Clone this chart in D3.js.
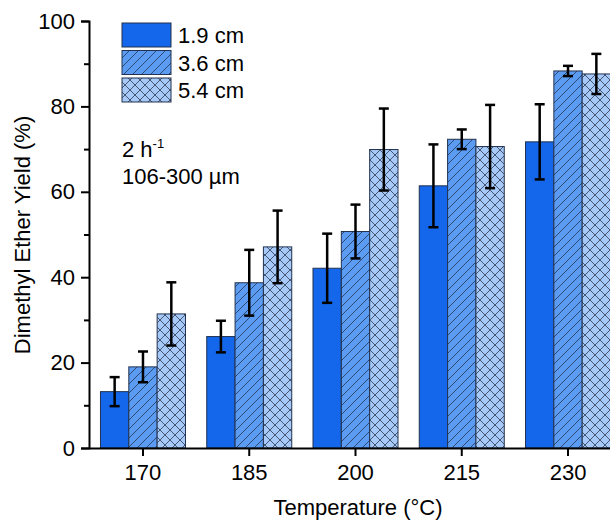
<!DOCTYPE html>
<html><head><meta charset="utf-8">
<script src="https://cdn.jsdelivr.net/npm/d3@7"></script>
<style>body{margin:0;background:#fff}svg{display:block}text{font-family:"Liberation Sans",Arial,sans-serif;fill:#000}</style>
</head><body>
<script>
const temperatures = ["170","185","200","215","230"];
const seriesNames = ["1.9 cm","3.6 cm","5.4 cm"];
const yield19 = [13.2, 26.1, 42.1, 61.4, 71.7];
const err19   = [3.4, 3.7, 8.1, 9.7, 8.8];
const yield36 = [19.0, 38.7, 50.7, 72.3, 88.3];
const err36   = [3.6, 7.7, 6.3, 2.3, 1.2];
const yield54 = [31.4, 47.1, 69.9, 70.6, 87.6];
const err54   = [7.4, 8.5, 9.6, 9.75, 4.7];
const yTicks = [0, 20, 40, 60, 80, 100];
const yMinor = [10, 30, 50, 70, 90];

const W = 610, H = 521;
const FS = 22;
const svg = d3.select("body").append("svg").attr("width", W).attr("height", H);
const defs = svg.append("defs");
const colors = ["#1466EA", "#5B9BF1", "#A7C9F8"];

// hatch patterns
const p1 = defs.append("pattern").attr("id","hatch").attr("patternUnits","userSpaceOnUse")
  .attr("width",9).attr("height",9);
p1.append("rect").attr("width",9).attr("height",9).attr("fill",colors[1]);
p1.append("path").attr("d","M-2,2 L2,-2 M0,9 L9,0 M7,11 L11,7").attr("stroke","#2a3f66").attr("stroke-width",0.9);
const p2 = defs.append("pattern").attr("id","cross").attr("patternUnits","userSpaceOnUse")
  .attr("width",10).attr("height",10);
p2.append("rect").attr("width",10).attr("height",10).attr("fill",colors[2]);
p2.append("path").attr("d","M-2,2 L2,-2 M0,10 L10,0 M8,12 L12,8 M-2,8 L2,12 M0,0 L10,10 M8,-2 L12,2").attr("stroke","#3a4a66").attr("stroke-width",0.9);
const fills = [colors[0], "url(#hatch)", "url(#cross)"];

const x0 = d3.scaleBand().domain(temperatures).range([89, 622]).paddingInner(0.2).paddingOuter(0.108);
const x1 = d3.scaleBand().domain(seriesNames).range([0, x0.bandwidth()]);
const y = d3.scaleLinear().domain([0, 100]).range([448, 21]);

const series = [
  {name: seriesNames[0], vals: yield19, errs: err19},
  {name: seriesNames[1], vals: yield36, errs: err36},
  {name: seriesNames[2], vals: yield54, errs: err54}
];

const g = svg.append("g");
series.forEach((s, si) => {
  temperatures.forEach((t, i) => {
    const bx = x0(t) + x1(s.name);
    g.append("rect").attr("x", bx).attr("y", y(s.vals[i]))
      .attr("width", x1.bandwidth()).attr("height", y(0) - y(s.vals[i]))
      .attr("fill", fills[si]).attr("stroke", "#22324f").attr("stroke-width", 1);
  });
});
series.forEach((s, si) => {
  temperatures.forEach((t, i) => {
    const cx = x0(t) + x1(s.name) + x1.bandwidth() / 2;
    const top = y(s.vals[i] + s.errs[i]), bot = y(s.vals[i] - s.errs[i]);
    const eg = g.append("g").attr("stroke", "#000").attr("stroke-width", 2.5);
    eg.append("line").attr("x1", cx).attr("x2", cx).attr("y1", top).attr("y2", bot);
    eg.append("line").attr("x1", cx - 5).attr("x2", cx + 5).attr("y1", top).attr("y2", top);
    eg.append("line").attr("x1", cx - 5).attr("x2", cx + 5).attr("y1", bot).attr("y2", bot);
  });
});

// axes
const yAxis = svg.append("g").attr("transform", "translate(89,0)")
  .call(d3.axisLeft(y).tickValues(yTicks).tickSize(8).tickPadding(6).tickFormat(d3.format("d")));
svg.append("g").attr("transform", "translate(89,0)")
  .call(d3.axisLeft(y).tickValues(yMinor).tickSize(5).tickFormat(""))
  .select(".domain").remove();
const xAxis = svg.append("g").attr("transform", "translate(0,448)")
  .call(d3.axisBottom(x0).tickSize(8).tickSizeOuter(0).tickPadding(6));
svg.selectAll(".tick line, .domain").attr("stroke", "#000").attr("stroke-width", 2);
yAxis.selectAll("text").attr("font-size", FS).attr("font-family", "Liberation Sans, Arial, sans-serif");
xAxis.selectAll("text").attr("font-size", FS).attr("font-family", "Liberation Sans, Arial, sans-serif")
  .attr("y", 32).attr("dy", 0);

svg.append("text").attr("x", 358).attr("y", 515).attr("text-anchor", "middle")
  .attr("font-size", FS).text("Temperature (°C)");
svg.append("text").attr("transform", "translate(30,235) rotate(-90)").attr("text-anchor", "middle")
  .attr("font-size", FS).text("Dimethyl Ether Yield (%)");

// legend
const lg = svg.append("g");
seriesNames.forEach((n, i) => {
  const ly = 23 + i * 27.5;
  lg.append("rect").attr("x", 122).attr("y", ly).attr("width", 49).attr("height", 24)
    .attr("fill", fills[i]).attr("stroke", "#22324f").attr("stroke-width", 1);
  lg.append("text").attr("x", 178).attr("y", ly + 20).attr("font-size", FS).text(n);
});

const t1 = svg.append("text").attr("x", 122).attr("y", 157).attr("font-size", FS);
t1.append("tspan").text("2 h");
t1.append("tspan").attr("dy", -9).attr("font-size", 13).text("-1");
svg.append("text").attr("x", 122).attr("y", 184).attr("font-size", FS).text("106-300 µm");
</script>
</body></html>
